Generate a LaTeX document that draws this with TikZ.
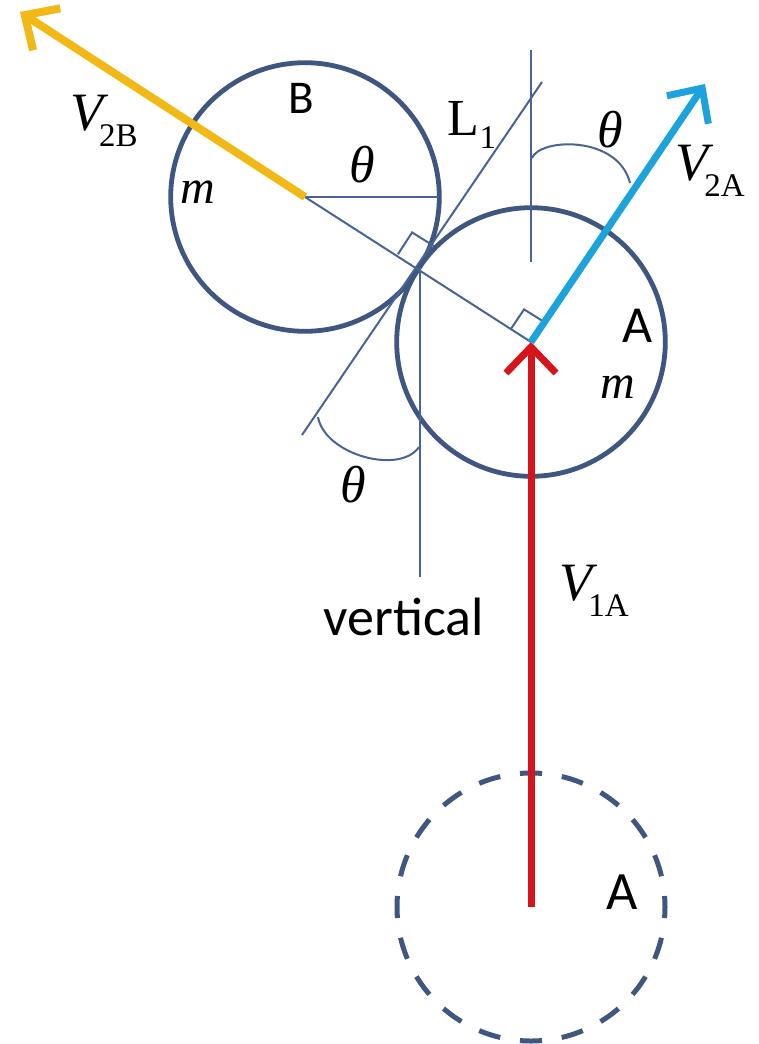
\documentclass[tikz,border=0pt]{standalone}
\usepackage{fontspec}
\setmainfont{Liberation Serif}
\newfontfamily\calib{Carlito}
\usetikzlibrary{arrows.meta,calc}
\definecolor{circcol}{RGB}{62,86,128}
\definecolor{linecol}{RGB}{72,100,148}
\definecolor{ycol}{RGB}{242,185,22}
\definecolor{bcol}{RGB}{28,162,220}
\definecolor{rcol}{RGB}{214,20,28}
\newcommand\vlab[1]{{\fontsize{54}{60}\selectfont\itshape V}\kern-4pt\raisebox{-16pt}{\fontsize{33}{36}\selectfont #1}}
\tikzset{
  ball/.style={draw=circcol,line width=4.8pt},
  thinline/.style={draw=linecol,line width=2pt},
  vec/.style={line width=7pt,-{Straight Barb[length=26pt,width=50pt]}},
  txt/.style={inner sep=0pt,font=\fontsize{52}{60}\selectfont},
  sanslab/.style={inner sep=0pt,font=\calib\fontsize{52}{60}\selectfont},
}
\begin{document}
\begin{tikzpicture}[x=1pt,y=1pt]
\useasboundingbox (0,0) rectangle (759,-1044);
\coordinate (Bc) at (305,-197);
\coordinate (Ac) at (531,-342);
\coordinate (T) at (420,-268);
\coordinate (Aold) at (531,-907);
\coordinate (L1a) at (302,-435);
\coordinate (L1b) at (542,-82);
\coordinate (VTa) at (531,-50);
\coordinate (VTb) at (531,-262);
\coordinate (VBb) at (420,-577);
\coordinate (Hend) at (439,-197);
\coordinate (YB) at (20,-12);
\coordinate (BA) at (705,-84);
% circles
\draw[ball] (Bc) circle[radius=134.3pt];
\draw[ball] (Ac) circle[radius=134.3pt];
\draw[ball,line width=5pt,dash pattern=on 22.1pt off 20pt,dash phase=11.05pt] (Aold) circle[radius=134pt];
% thin construction lines
\draw[thinline] (Bc) -- (Hend);
\draw[thinline] (Bc) -- (Ac);
\draw[thinline] (L1a) -- (L1b);
\draw[thinline] (VTa) -- (VTb);
\draw[thinline] (T) -- (VBb);
% right angle marks
\draw[thinline] ($(T)+(148:26)$) -- ($(T)+(148:26)+(57:26)$) -- ($(T)+(57:26)$);
\draw[thinline] ($(Ac)+(148:24)$) -- ($(Ac)+(148:24)+(56:24)$) -- ($(Ac)+(56:24)$);
% angle arcs
\draw[thinline] (532,-158) .. controls (540,-138) and (618,-135) .. (630,-183);
\draw[thinline] (318,-417) .. controls (325,-455) and (400,-475) .. (419,-447);
% vectors
\draw[vec,draw=ycol,line width=8pt] (Bc) -- (YB);
\draw[vec,draw=bcol,line width=7pt] (Ac) -- (BA);
\draw[vec,draw=rcol,line width=7pt] (Aold) -- (Ac);
% labels
\node[txt] (lv2b) at (104,-121) {\vlab{2B}};
\node[sanslab,font=\calib\fontsize{47}{55}\selectfont] (lB) at (301,-98) {B};
\node[txt,font=\fontsize{48}{55}\selectfont\itshape] (lmB) at (198,-192) {m};
\node[txt,font=\fontsize{52}{60}\selectfont\itshape] (lthB) at (362,-165) {θ};
\node[txt] (lL1) at (472,-125) {L\raisebox{-13pt}{\fontsize{33}{36}\selectfont 1}};
\node[txt,font=\fontsize{52}{60}\selectfont\itshape] (lthT) at (610,-130) {θ};
\node[txt] (lv2a) at (710,-171) {\vlab{2A}};
\node[sanslab] (lA) at (638,-326) {A};
\node[txt,font=\fontsize{48}{55}\selectfont\itshape] (lmA) at (618,-387) {m};
\node[txt,font=\fontsize{52}{60}\selectfont\itshape] (lthL) at (353,-485) {θ};
\node[txt] (lv1a) at (594,-591) {\vlab{1A}};
\node[sanslab,font=\calib\fontsize{54}{60}\selectfont] (lvert) at (404,-617) {vertical};
\node[sanslab,font=\calib\fontsize{54}{60}\selectfont] (lAold) at (622,-892) {A};
\end{tikzpicture}
\end{document}
